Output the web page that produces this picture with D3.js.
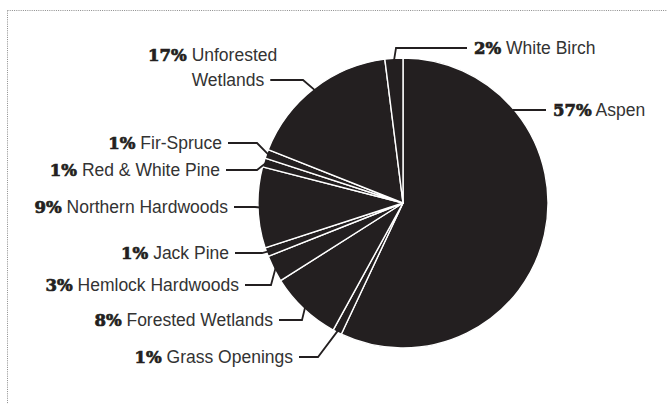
<!DOCTYPE html>
<html>
<head>
<meta charset="utf-8">
<script src="https://cdn.jsdelivr.net/npm/d3@7"></script>
<style>
  html, body { margin: 0; padding: 0; background: #fff; }
  svg { display: block; }
</style>
</head>
<body>
<svg id="chart" width="667" height="404"></svg>
<script>
// Forest cover types, clockwise from 12 o'clock
const coverTypes = ["Aspen", "Grass Openings", "Forested Wetlands", "Hemlock Hardwoods", "Jack Pine",
  "Northern Hardwoods", "Red & White Pine", "Fir-Spruce", "Unforested Wetlands", "White Birch"];
const sharePct = [57, 1, 8, 3, 1, 9, 1, 1, 17, 2];

// Label placement: side, text x (end for left labels, start for right ones), centre y, leader elbow x
const labelLayout = {
  "Aspen":               { side: "right", x: 553, y: 110, elbow: null },
  "White Birch":         { side: "right", x: 474, y: 48,  elbow: 396 },
  "Unforested Wetlands": { side: "left",  x: 148, y: 55,  elbow: 303, lines: ["Unforested", "Wetlands"] },
  "Fir-Spruce":          { side: "left",  x: 222, y: 143, elbow: 257 },
  "Red & White Pine":    { side: "left",  x: 220, y: 170, elbow: 257 },
  "Northern Hardwoods":  { side: "left",  x: 228, y: 207, elbow: 255 },
  "Jack Pine":           { side: "left",  x: 229, y: 253, elbow: 262 },
  "Hemlock Hardwoods":   { side: "left",  x: 239, y: 285, elbow: 271 },
  "Forested Wetlands":   { side: "left",  x: 273, y: 320, elbow: 302 },
  "Grass Openings":      { side: "left",  x: 293, y: 357, elbow: 318 }
};

const ink = "#231f20";
const svg = d3.select("#chart");
const cx = 403, cy = 203, radius = 145;

// dotted frame along top and left edges
svg.append("line").attr("x1", 7.5).attr("y1", 10.5).attr("x2", 667).attr("y2", 10.5)
  .attr("stroke", "#8a8a8a").attr("stroke-width", 1).attr("stroke-dasharray", "1 1.2");
svg.append("line").attr("x1", 7.5).attr("y1", 10.5).attr("x2", 7.5).attr("y2", 404)
  .attr("stroke", "#8a8a8a").attr("stroke-width", 1).attr("stroke-dasharray", "1 1.2");

const data = coverTypes.map((name, i) => ({ name, value: sharePct[i] }));
const pie = d3.pie().value(d => d.value).sort(null);
const arcs = pie(data);
const arc = d3.arc().innerRadius(0).outerRadius(radius);

const g = svg.append("g").attr("transform", `translate(${cx},${cy})`);
g.selectAll("path.slice").data(arcs).enter().append("path")
  .attr("class", "slice")
  .attr("d", arc)
  .attr("fill", ink)
  .attr("stroke", "#fff")
  .attr("stroke-width", 1.4)
  .attr("stroke-linejoin", "round");

const polar = (a, r) => [cx + r * Math.sin(a), cy - r * Math.cos(a)];

const pctFont = "'DejaVu Serif', serif";
const nameFont = "'Liberation Sans', Arial, sans-serif";

// heavy percentage figure
function pctSpan(sel, txt) {
  return sel.append("tspan").attr("font-family", pctFont).attr("font-weight", "bold")
    .attr("font-size", 16.5).attr("fill", ink)
    .attr("stroke", ink).attr("stroke-width", 0.7).attr("paint-order", "stroke")
    .text(txt);
}

const labels = svg.append("g");
arcs.forEach(a => {
  const L = labelLayout[a.data.name];
  const mid = (a.startAngle + a.endAngle) / 2;
  const pctText = a.data.value + "%";
  let lineStartX;

  if (L.lines) {
    // two-line label, names share a left edge
    const t1 = labels.append("text").attr("x", L.x).attr("y", L.y).attr("dy", "0.35em")
      .attr("text-anchor", "start");
    const p = pctSpan(t1, pctText);
    const pw = p.node().getComputedTextLength();
    const nameX = L.x + pw + 5;
    t1.append("tspan").attr("x", nameX).attr("font-family", nameFont).attr("font-size", 17.5)
      .attr("fill", "#333").text(L.lines[0]);
    const t2 = labels.append("text").attr("x", nameX).attr("y", L.y + 25).attr("dy", "0.35em")
      .attr("font-family", nameFont).attr("font-size", 17.5).attr("fill", "#333").text(L.lines[1]);
    lineStartX = nameX + t2.node().getComputedTextLength() + 6;
    const end = polar(mid, radius - 4);
    labels.append("polyline")
      .attr("points", [[lineStartX, L.y + 25], [L.elbow, L.y + 25], end].map(p => p.join(",")).join(" "))
      .attr("fill", "none").attr("stroke", ink).attr("stroke-width", 1.8);
    return;
  }

  const t = labels.append("text").attr("x", L.x).attr("y", L.y).attr("dy", "0.35em")
    .attr("text-anchor", L.side === "left" ? "end" : "start");
  pctSpan(t, pctText);
  t.append("tspan").attr("font-family", nameFont).attr("font-size", 17.5)
    .attr("fill", "#333").text(" " + a.data.name);

  let pts;
  if (L.side === "left") {
    lineStartX = L.x + 6;
    pts = [[lineStartX, L.y], [L.elbow, L.y], polar(mid, radius - 2)];
  } else if (L.elbow === null) {
    // straight horizontal leader meeting the rim
    const dy = L.y - cy;
    const rimX = cx + Math.sqrt(radius * radius - dy * dy);
    pts = [[L.x - 7, L.y], [rimX - 2, L.y]];
  } else {
    pts = [[L.x - 7, L.y], [L.elbow, L.y], polar(mid, radius - 2)];
  }
  labels.append("polyline")
    .attr("points", pts.map(p => p.join(",")).join(" "))
    .attr("fill", "none").attr("stroke", ink).attr("stroke-width", 1.8);
});
</script>
</body>
</html>
